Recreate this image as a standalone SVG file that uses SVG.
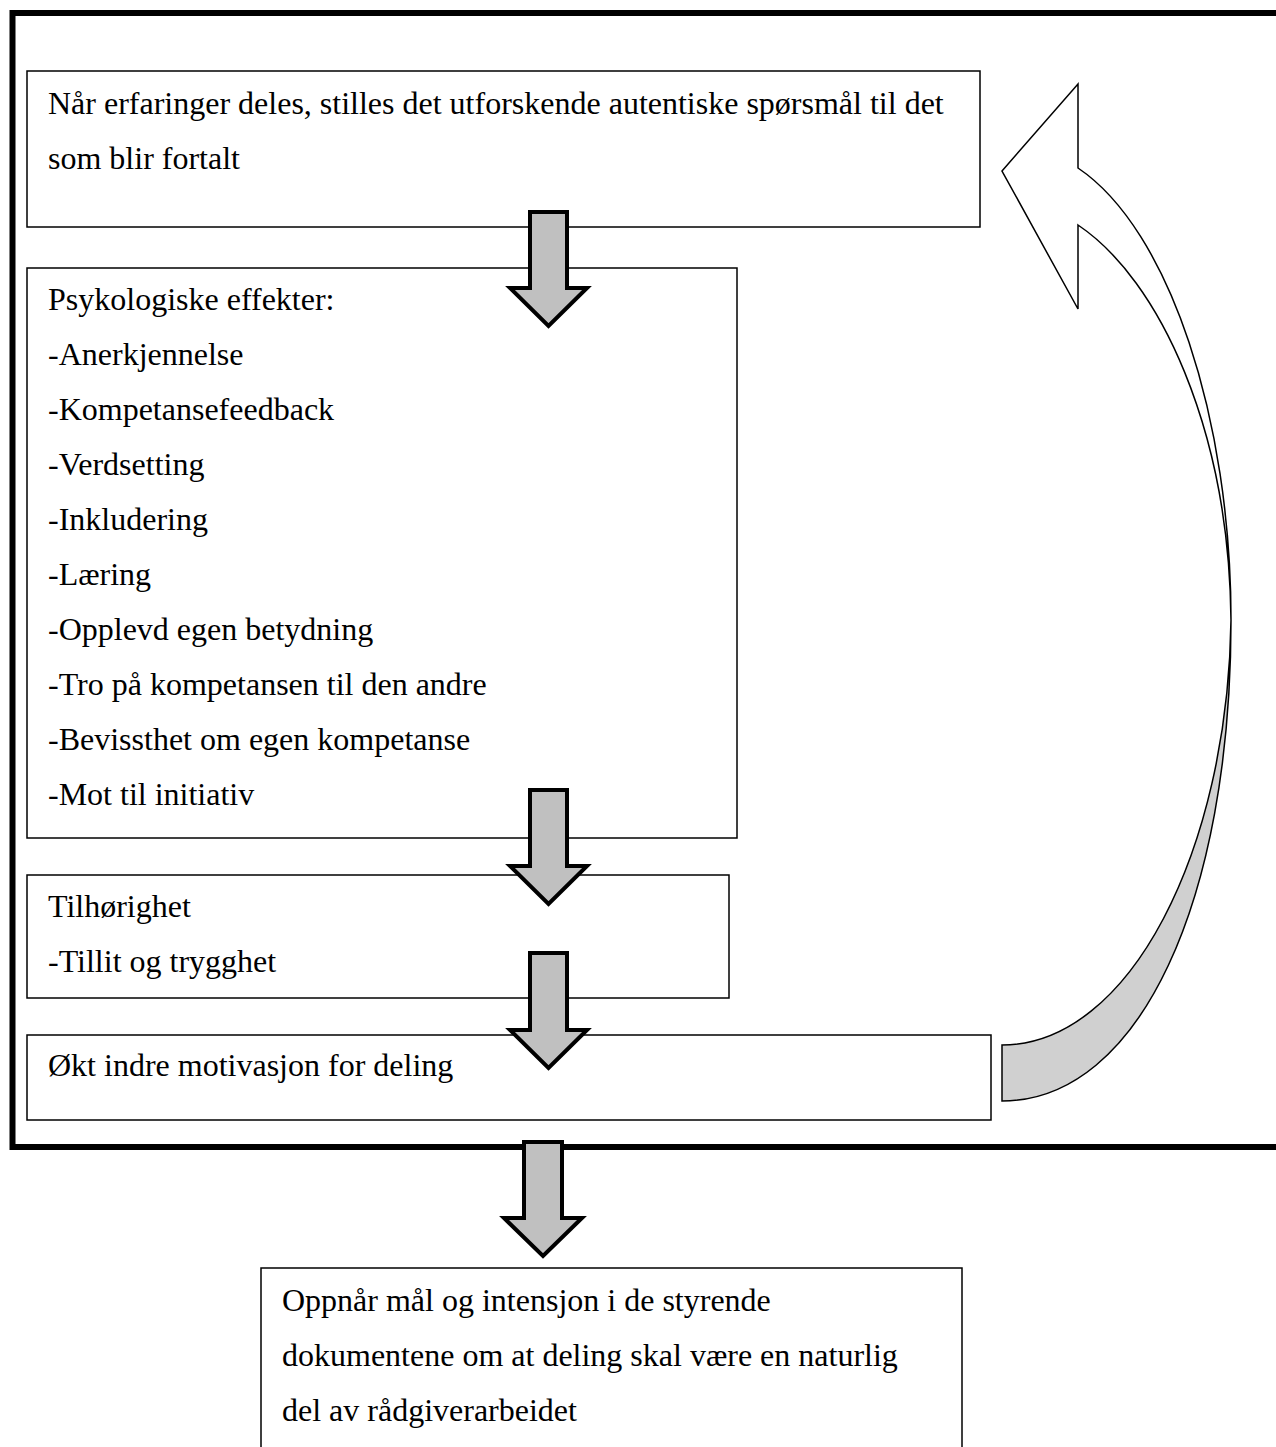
<svg xmlns="http://www.w3.org/2000/svg" width="1276" height="1447" viewBox="0 0 1276 1447">
<style>
.box{fill:#fff;stroke:#000;stroke-width:1.5}
.t{font-family:"Liberation Serif","Times New Roman",serif;font-size:32px;fill:#000}
.down{fill:#c0c0c0;stroke:#000;stroke-width:4;stroke-linejoin:miter}
.curve{stroke:#000;stroke-width:1.5;stroke-linejoin:miter}
</style>
<rect width="1276" height="1447" fill="#fff"/>
<g id="frame"><rect x="12.5" y="13" width="1280" height="1134" fill="none" stroke="#000" stroke-width="6"/></g>
<g id="n1"><rect class="box" x="27" y="71" width="953" height="156"/>
<text class="t" x="48" y="114">Når erfaringer deles, stilles det utforskende autentiske spørsmål til det</text>
<text class="t" x="48" y="169">som blir fortalt</text></g>
<g id="n2"><rect class="box" x="27" y="268" width="710" height="570"/>
<text class="t" x="48" y="310">Psykologiske effekter:</text>
<text class="t" x="48" y="365">-Anerkjennelse</text>
<text class="t" x="48" y="420">-Kompetansefeedback</text>
<text class="t" x="48" y="475">-Verdsetting</text>
<text class="t" x="48" y="530">-Inkludering</text>
<text class="t" x="48" y="585">-Læring</text>
<text class="t" x="48" y="640">-Opplevd egen betydning</text>
<text class="t" x="48" y="695">-Tro på kompetansen til den andre</text>
<text class="t" x="48" y="750">-Bevissthet om egen kompetanse</text>
<text class="t" x="48" y="805">-Mot til initiativ</text></g>
<g id="n3"><rect class="box" x="27" y="875" width="702" height="123"/>
<text class="t" x="48" y="917">Tilhørighet</text>
<text class="t" x="48" y="972">-Tillit og trygghet</text></g>
<g id="n4"><rect class="box" x="27" y="1035" width="964" height="85"/>
<text class="t" x="48" y="1076">Økt indre motivasjon for deling</text></g>
<g id="n5"><rect class="box" x="261" y="1268" width="701" height="190"/>
<text class="t" x="282" y="1311">Oppnår mål og intensjon i de styrende</text>
<text class="t" x="282" y="1366">dokumentene om at deling skal være en naturlig</text>
<text class="t" x="282" y="1421">del av rådgiverarbeidet</text></g>
<g id="connectors">
<path class="down" d="M530,212 H567 V288 H587 L548.5,326 L510,288 H530 Z"/>
<path class="down" d="M530,790 H567 V866 H587 L548.5,904 L510,866 H530 Z"/>
<path class="down" d="M530,953 H567 V1030 H587 L548.5,1068 L510,1030 H530 Z"/>
<path class="down" d="M524,1142 H562 V1218 H582 L543,1256 L504,1218 H524 Z"/>
<path class="curve" fill="#fff" d="M1002,171 L1078,84 V168 C1170,230 1231,420 1231,620 C1229,430 1160,280 1078,225 V309 Z"/>
<path class="curve" fill="#d0d0d0" d="M1231,620 C1231,900 1140,1101 1002,1101 V1045 C1130,1045 1228,850 1231,620 Z"/>
</g>
</svg>
